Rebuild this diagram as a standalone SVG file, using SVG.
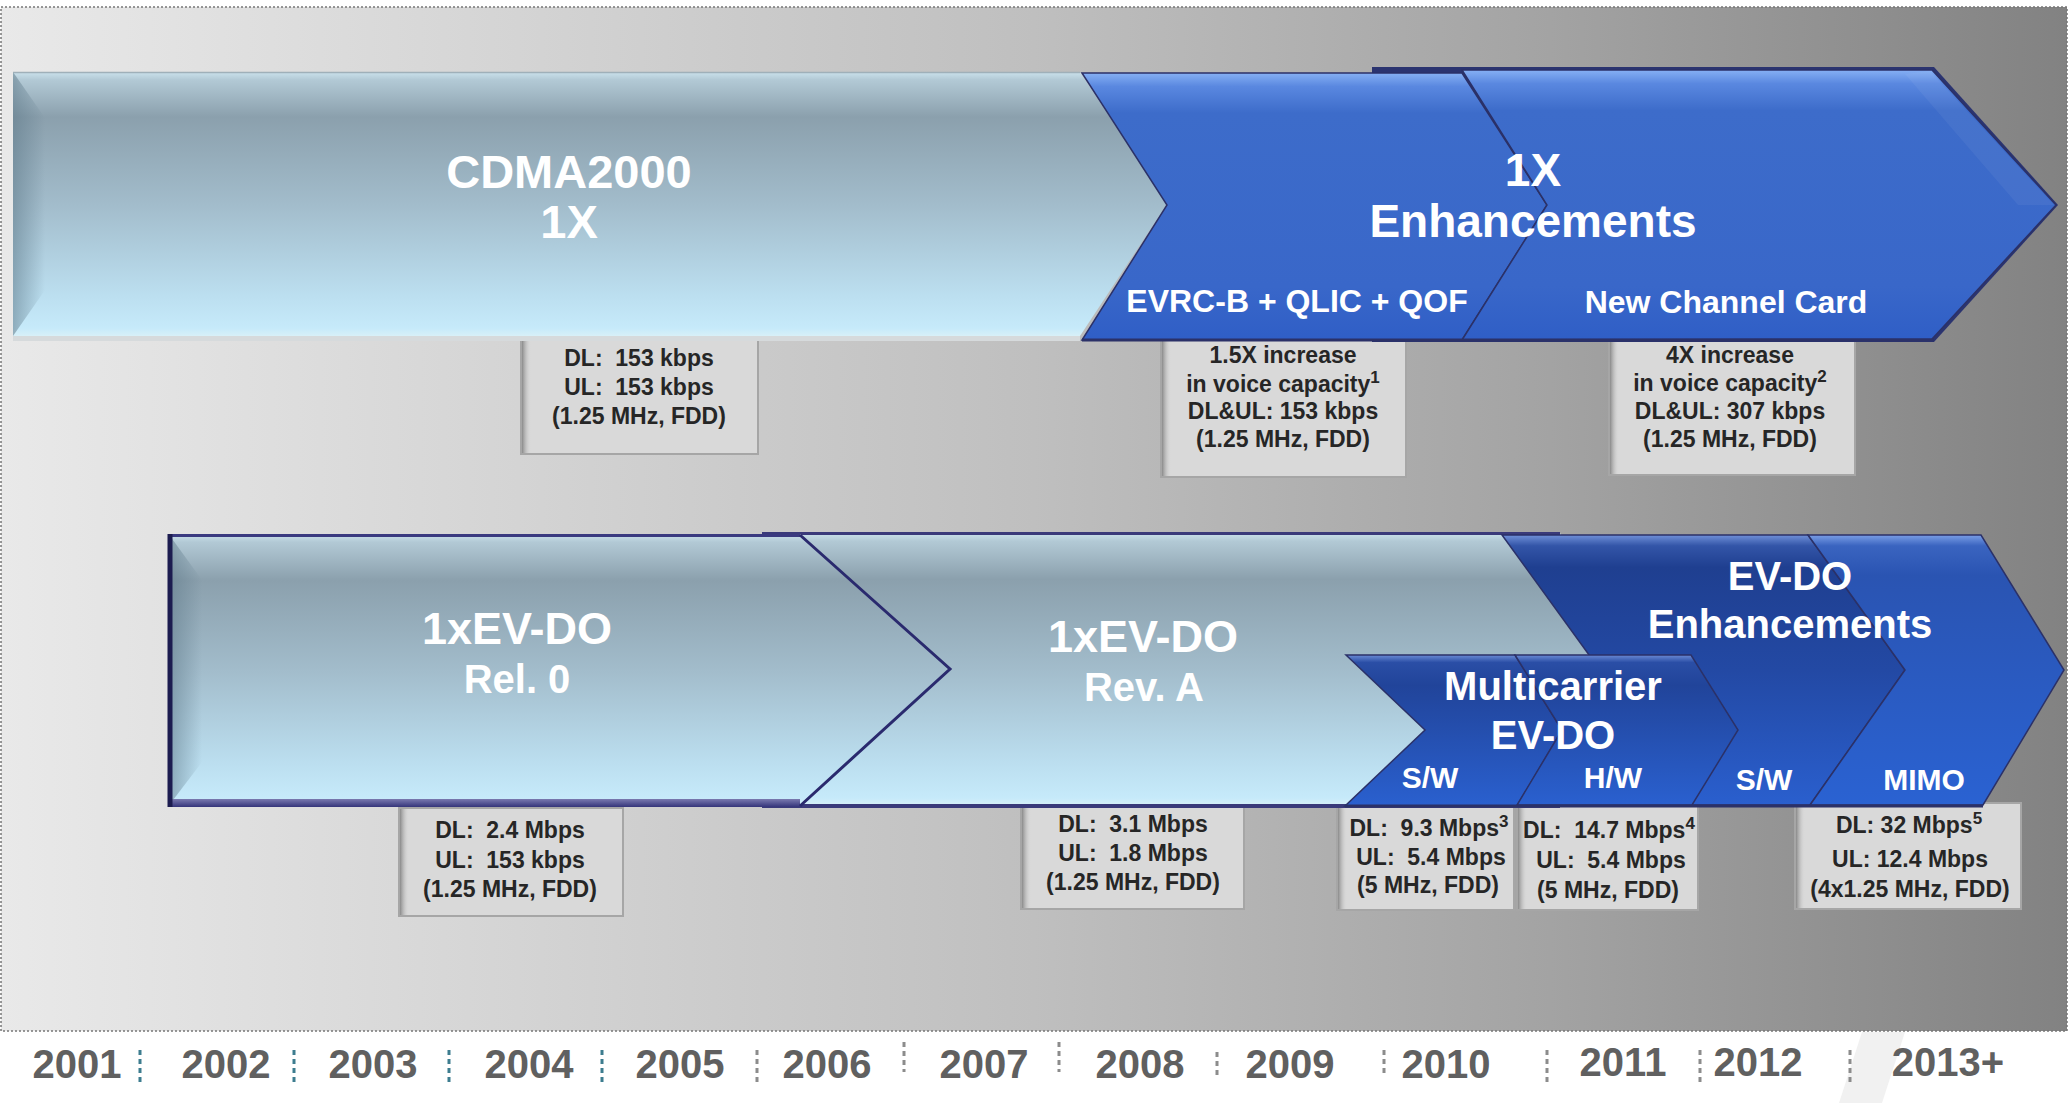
<svg xmlns="http://www.w3.org/2000/svg" width="2068" height="1103" viewBox="0 0 2068 1103">
<defs>
  <linearGradient id="bg" x1="0" y1="0" x2="1" y2="0">
    <stop offset="0" stop-color="#e9e9e9"/>
    <stop offset="0.5" stop-color="#bfbfbf"/>
    <stop offset="0.75" stop-color="#a3a3a3"/>
    <stop offset="1" stop-color="#828282"/>
  </linearGradient>
  <linearGradient id="lb" x1="0" y1="0" x2="0" y2="1">
    <stop offset="0" stop-color="#cbe2ec"/>
    <stop offset="0.03" stop-color="#b2c9d5"/>
    <stop offset="0.17" stop-color="#8ba0ad"/>
    <stop offset="0.5" stop-color="#a2bccb"/>
    <stop offset="0.85" stop-color="#bcdff0"/>
    <stop offset="0.97" stop-color="#c6eafa"/>
    <stop offset="1" stop-color="#d8f0f8"/>
  </linearGradient>
  <linearGradient id="b1" x1="0" y1="0" x2="0" y2="1">
    <stop offset="0" stop-color="#86b0f4"/>
    <stop offset="0.05" stop-color="#5a88e0"/>
    <stop offset="0.15" stop-color="#3d6cca"/>
    <stop offset="0.8" stop-color="#3967c9"/>
    <stop offset="1" stop-color="#2f5ec6"/>
  </linearGradient>
  <linearGradient id="bd" x1="0" y1="0" x2="0" y2="1">
    <stop offset="0" stop-color="#7090d8"/>
    <stop offset="0.04" stop-color="#3355a8"/>
    <stop offset="0.12" stop-color="#1f3f90"/>
    <stop offset="0.5" stop-color="#2349a4"/>
    <stop offset="1" stop-color="#2a5fce"/>
  </linearGradient>
  <linearGradient id="bm" x1="0" y1="0" x2="0" y2="1">
    <stop offset="0" stop-color="#7a9ee6"/>
    <stop offset="0.04" stop-color="#3a64c0"/>
    <stop offset="0.15" stop-color="#2a54b2"/>
    <stop offset="1" stop-color="#2a62d2"/>
  </linearGradient>
  <linearGradient id="bmc" x1="0" y1="0" x2="0" y2="1">
    <stop offset="0" stop-color="#6a8ad4"/>
    <stop offset="0.05" stop-color="#2a4ea6"/>
    <stop offset="0.2" stop-color="#21449a"/>
    <stop offset="1" stop-color="#2a60cf"/>
  </linearGradient>
  <linearGradient id="shL" x1="0" y1="0" x2="1" y2="0">
    <stop offset="0" stop-color="#8a8a8a"/>
    <stop offset="1" stop-color="#d9d9d9" stop-opacity="0"/>
  </linearGradient>
  <linearGradient id="bevL" x1="0" y1="0" x2="1" y2="0">
    <stop offset="0" stop-color="#5f7a8a" stop-opacity="0.55"/>
    <stop offset="1" stop-color="#5f7a8a" stop-opacity="0"/>
  </linearGradient>
  <linearGradient id="navyB" x1="0" y1="0" x2="0" y2="1">
    <stop offset="0" stop-color="#7a7ab0"/>
    <stop offset="1" stop-color="#34347a"/>
  </linearGradient>
</defs>
<style>
  text { font-family: "Liberation Sans", Arial, sans-serif; font-weight: bold; text-anchor: middle; }
  .w { fill: #ffffff; }
  .k { fill: #262626; font-size: 23px; }
  .sup { font-size: 17px; }
  .yr { fill: #606060; font-size: 40px; }
  .box { fill: #d9d9d9; stroke: #a6a6a6; stroke-width: 2; }
  .shl { fill: url(#shL); }
  .sep { stroke-width: 3; stroke-dasharray: 5 4; fill: none; }
  .teal { stroke: #3d7d8f; }
  .gray { stroke: #8c8c8c; }
  .nv { stroke: #2b3168; stroke-width: 1.5; }
</style>

<g id="background">
  <rect x="1" y="7" width="2066" height="1024" fill="url(#bg)" stroke="#777777" stroke-width="1.5" stroke-dasharray="2 2"/>
  <polygon points="1862,1032 1905,1032 1882,1103 1839,1103" fill="#f1f1f1"/>
</g>

<!-- info boxes top row -->
<g id="box-cdma2000">
  <rect class="box" x="521" y="339" width="237" height="115"/>
  <rect class="shl" x="522" y="340" width="9" height="113"/>
  <text class="k" x="639" y="366" xml:space="preserve">DL:  153 kbps</text>
  <text class="k" x="639" y="395" xml:space="preserve">UL:  153 kbps</text>
  <text class="k" x="639" y="424">(1.25 MHz, FDD)</text>
</g>
<g id="box-evrc">
  <rect class="box" x="1161" y="339" width="245" height="138"/>
  <rect class="shl" x="1162" y="340" width="9" height="136"/>
  <text class="k" x="1283" y="363">1.5X increase</text>
  <text class="k" x="1283" y="392">in voice capacity<tspan class="sup" dy="-9">1</tspan></text>
  <text class="k" x="1283" y="419">DL&amp;UL: 153 kbps</text>
  <text class="k" x="1283" y="447">(1.25 MHz, FDD)</text>
</g>
<g id="box-channel-card">
  <rect class="box" x="1609" y="339" width="246" height="136"/>
  <rect class="shl" x="1610" y="340" width="9" height="134"/>
  <text class="k" x="1730" y="363">4X increase</text>
  <text class="k" x="1730" y="391">in voice capacity<tspan class="sup" dy="-9">2</tspan></text>
  <text class="k" x="1730" y="419">DL&amp;UL: 307 kbps</text>
  <text class="k" x="1730" y="447">(1.25 MHz, FDD)</text>
</g>

<!-- top row arrows -->
<g id="cdma2000-1x">
  <polygon points="13,72 1080,72 1167,204 1080,336 13,336" fill="url(#lb)"/>
  <polygon points="13,72 45,118 45,290 13,336" fill="url(#bevL)"/>
  <line x1="13" y1="72.5" x2="1080" y2="72.5" stroke="#9fb0b9" stroke-width="1.5"/>
  <rect x="13" y="336" width="1067" height="5" fill="#d6dadc"/>
  <text class="w" x="569" y="188" font-size="47">CDMA2000</text>
  <text class="w" x="569" y="238" font-size="47">1X</text>
</g>
<g id="enh-1x">
  <polygon points="1372,67 1934,67 2058,205 1934,342 1372,342" fill="#2b3470"/>
  <polygon class="nv" points="1082,73 1462,73 1547,205 1462,340 1082,340 1167,205" fill="url(#b1)"/>
  <polygon class="nv" points="1462,70 1932,70 2056,205 1932,339 1462,340 1547,205" fill="url(#b1)"/>
  <polygon points="1905,74 1930,71 2054,205 2018,205" fill="#ffffff" fill-opacity="0.05"/>
  <line x1="1082" y1="340" x2="1934" y2="340" stroke="#2b3168" stroke-width="3"/>
  <text class="w" x="1533" y="186" font-size="46">1X</text>
  <text class="w" x="1533" y="237" font-size="46">Enhancements</text>
  <text class="w" x="1297" y="312" font-size="32">EVRC-B + QLIC + QOF</text>
  <text class="w" x="1726" y="313" font-size="32">New Channel Card</text>
</g>

<!-- info boxes bottom row -->
<g id="box-rel0">
  <rect class="box" x="399" y="808" width="224" height="108"/>
  <rect class="shl" x="400" y="809" width="9" height="106"/>
  <text class="k" x="510" y="838" xml:space="preserve">DL:  2.4 Mbps</text>
  <text class="k" x="510" y="868" xml:space="preserve">UL:  153 kbps</text>
  <text class="k" x="510" y="897">(1.25 MHz, FDD)</text>
</g>
<g id="box-revA">
  <rect class="box" x="1021" y="806" width="223" height="103"/>
  <rect class="shl" x="1022" y="807" width="9" height="101"/>
  <text class="k" x="1133" y="832" xml:space="preserve">DL:  3.1 Mbps</text>
  <text class="k" x="1133" y="861" xml:space="preserve">UL:  1.8 Mbps</text>
  <text class="k" x="1133" y="890">(1.25 MHz, FDD)</text>
</g>
<g id="box-mc-sw">
  <rect class="box" x="1337" y="806" width="177" height="104"/>
  <rect class="shl" x="1338" y="807" width="9" height="102"/>
  <text class="k" x="1429" y="836" xml:space="preserve">DL:  9.3 Mbps<tspan class="sup" dy="-9">3</tspan></text>
  <text class="k" x="1431" y="865" xml:space="preserve">UL:  5.4 Mbps</text>
  <text class="k" x="1428" y="893">(5 MHz, FDD)</text>
</g>
<g id="box-mc-hw">
  <rect class="box" x="1517" y="806" width="181" height="104"/>
  <rect class="shl" x="1518" y="807" width="9" height="102"/>
  <text class="k" x="1609" y="838" xml:space="preserve">DL:  14.7 Mbps<tspan class="sup" dy="-9">4</tspan></text>
  <text class="k" x="1611" y="868" xml:space="preserve">UL:  5.4 Mbps</text>
  <text class="k" x="1608" y="898">(5 MHz, FDD)</text>
</g>
<g id="box-mimo">
  <rect class="box" x="1795" y="803" width="226" height="106"/>
  <rect class="shl" x="1796" y="804" width="9" height="104"/>
  <text class="k" x="1909" y="833">DL: 32 Mbps<tspan class="sup" dy="-9">5</tspan></text>
  <text class="k" x="1910" y="867">UL: 12.4 Mbps</text>
  <text class="k" x="1910" y="897">(4x1.25 MHz, FDD)</text>
</g>

<!-- bottom row arrows -->
<g id="evdo-revA">
  <polygon points="762,533 1560,533 1650,669 1560,806 762,806 850,669" fill="url(#lb)"/>
  <line x1="762" y1="533.5" x2="1560" y2="533.5" stroke="#3a3a7a" stroke-width="3"/>
  <line x1="762" y1="806" x2="1560" y2="806" stroke="#3a3a7a" stroke-width="4"/>
  <text class="w" x="1143" y="652" font-size="45">1xEV-DO</text>
  <text class="w" x="1144" y="701" font-size="40">Rev. A</text>
</g>
<g id="evdo-rel0">
  <polygon points="168,534 800,534 950,669 800,806 168,806" fill="url(#lb)"/>
  <polygon points="170,536 202,580 202,762 170,804" fill="url(#bevL)"/>
  <rect x="168" y="799" width="632" height="8" fill="url(#navyB)"/>
  <line x1="168" y1="535.5" x2="800" y2="535.5" stroke="#3a3a80" stroke-width="3"/>
  <polyline points="800,535 950,669 800,806" fill="none" stroke="#2a2a6e" stroke-width="3"/>
  <line x1="170" y1="534" x2="170" y2="807" stroke="#1c1c50" stroke-width="5"/>
  <text class="w" x="517" y="644" font-size="45">1xEV-DO</text>
  <text class="w" x="517" y="693" font-size="40">Rel. 0</text>
</g>
<g id="evdo-enh-sw">
  <polygon class="nv" points="1502,535 1808,535 1905,670 1810,805 1502,805 1600,670" fill="url(#bd)"/>
</g>
<g id="evdo-enh-mimo">
  <polygon class="nv" points="1808,535 1981,535 2064,670 1983,805 1810,805 1905,670" fill="url(#bm)"/>
</g>
<g id="multicarrier-sw">
  <polygon class="nv" points="1346,655 1515,655 1562,730 1517,806 1345,806 1425,730" fill="url(#bmc)"/>
</g>
<g id="multicarrier-hw">
  <polygon class="nv" points="1515,655 1691,655 1738,730 1692,805 1517,805 1562,730" fill="url(#bmc)"/>
  <line x1="1345" y1="806" x2="1983" y2="806" stroke="#2b3168" stroke-width="3"/>
</g>
<g id="labels-evdo-enh">
  <text class="w" x="1790" y="590" font-size="40">EV-DO</text>
  <text class="w" x="1790" y="638" font-size="40">Enhancements</text>
  <text class="w" x="1553" y="700" font-size="40">Multicarrier</text>
  <text class="w" x="1553" y="749" font-size="40">EV-DO</text>
  <text class="w" x="1430" y="788" font-size="30">S/W</text>
  <text class="w" x="1613" y="788" font-size="30">H/W</text>
  <text class="w" x="1764" y="790" font-size="30">S/W</text>
  <text class="w" x="1924" y="790" font-size="30">MIMO</text>
</g>

<!-- timeline -->
<g id="timeline">
  <text class="yr" x="77" y="1078">2001</text>
  <text class="yr" x="226" y="1078">2002</text>
  <text class="yr" x="373" y="1078">2003</text>
  <text class="yr" x="529" y="1078">2004</text>
  <text class="yr" x="680" y="1078">2005</text>
  <text class="yr" x="827" y="1078">2006</text>
  <text class="yr" x="984" y="1078">2007</text>
  <text class="yr" x="1140" y="1078">2008</text>
  <text class="yr" x="1290" y="1078">2009</text>
  <text class="yr" x="1446" y="1078">2010</text>
  <text class="yr" x="1623" y="1076">2011</text>
  <text class="yr" x="1758" y="1076">2012</text>
  <text class="yr" x="1948" y="1076">2013+</text>
  <line class="sep teal" x1="140" y1="1050" x2="140" y2="1082"/>
  <line class="sep teal" x1="294" y1="1050" x2="294" y2="1082"/>
  <line class="sep teal" x1="449" y1="1050" x2="449" y2="1082"/>
  <line class="sep teal" x1="602" y1="1050" x2="602" y2="1082"/>
  <line class="sep gray" x1="757" y1="1050" x2="757" y2="1082"/>
  <line class="sep gray" x1="904" y1="1042" x2="904" y2="1072"/>
  <line class="sep gray" x1="1059" y1="1042" x2="1059" y2="1072"/>
  <line class="sep gray" x1="1217" y1="1052" x2="1217" y2="1077"/>
  <line class="sep gray" x1="1384" y1="1050" x2="1384" y2="1075"/>
  <line class="sep gray" x1="1547" y1="1050" x2="1547" y2="1082"/>
  <line class="sep gray" x1="1700" y1="1050" x2="1700" y2="1082"/>
  <line class="sep gray" x1="1850" y1="1050" x2="1850" y2="1082"/>
</g>
</svg>
